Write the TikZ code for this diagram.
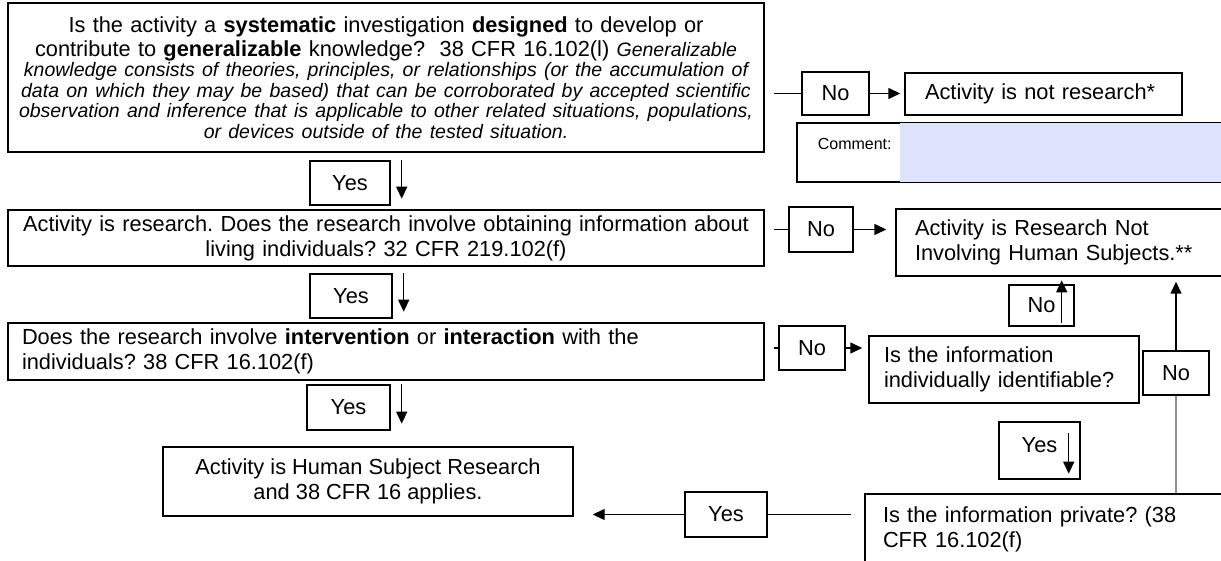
\documentclass[tikz,border=0pt]{standalone}
\usepackage{fontspec}
\setmainfont{Liberation Sans}
\setlength{\parindent}{0pt}
\frenchspacing
\usetikzlibrary{arrows.meta,calc}
\definecolor{cmtblue}{RGB}{220,227,251}

\begin{document}
\begin{tikzpicture}[x=1pt,y=-1pt,
        box/.style={draw,line width=1.4pt,inner sep=0pt,font=\fontsize{21.8}{25}\selectfont},
        lnk/.style={line width=1.4pt},
        arr/.style={line width=1.4pt,-{Triangle[length=12pt,width=11pt]}}]
        \useasboundingbox (0,0) rectangle (1221,561);
        \clip (0,0) rectangle (1221,561);
        \node[box,minimum width=756pt,minimum height=149pt,text width=745pt,font=\fontsize{21.8}{24}\selectfont] (q1) at (386,77.5) {\centering
            Is the activity a \textbf{systematic} investigation \textbf{designed} to develop or\\
            contribute to \textbf{generalizable} knowledge?\ \ 38 CFR 16.102(l) {\itshape\fontsize{19.5}{20.4}\selectfont Generalizable}\\
            {\itshape\fontsize{19.5}{20.4}\selectfont knowledge consists of theories, principles, or relationships (or the accumulation of\\
            data on which they may be based) that can be corroborated by accepted scientific\\
            observation and inference that is applicable to other related situations, populations,\\
            or devices outside of the tested situation.\par}};
        \node[box,minimum width=80pt,minimum height=44pt] (yes1) at (350,183) {Yes};
        \node[box,minimum width=756pt,minimum height=56pt,text width=745pt,align=center] (q2) at (386,238) {Activity is research. Does the research involve obtaining information about\\ living individuals? 32 CFR 219.102(f)};
        \node[box,minimum width=82pt,minimum height=44pt] (yes2) at (351,296) {Yes};
        \node[box,minimum width=756pt,minimum height=57pt,text width=728pt,align=left] (q3) at (386,351.5) {Does the research involve \textbf{intervention} or \textbf{interaction} with the\\ individuals? 38 CFR 16.102(f)};
        \node[box,minimum width=83pt,minimum height=45pt] (yes3) at (348.5,407.5) {Yes};
        \node[box,minimum width=410pt,minimum height=69pt,align=center] (hsr) at (368,481.5) {Activity is Human Subject Research\\ and 38 CFR 16 applies.};
        \node[box,minimum width=67pt,minimum height=43pt] (no1) at (835.5,93.5) {No};
        \node[box,minimum width=277pt,minimum height=42pt,text width=237pt,align=left] (nores) at (1043.5,94) {Activity is not research*};
        \node[box,minimum width=443pt,minimum height=59pt] (comment) at (1018.5,152.5) {};
        \fill[cmtblue] ($(comment.north west)+(104,0.7)$) rectangle ($(comment.south east)+(0,-0.7)$);
        \node[font=\fontsize{16}{18}\selectfont,anchor=west] (cmtlbl) at ($(comment.west)+(18,-9)$) {Comment:};
        \node[box,minimum width=64pt,minimum height=45pt] (no2) at (821,229.5) {No};
        \node[box,minimum width=344pt,minimum height=67pt,text width=306pt,align=left] (rni) at (1068,242.5) {Activity is Research Not\\ Involving Human Subjects.**};
        \node[box,minimum width=66pt,minimum height=44pt] (no3) at (812,348) {No};
        \node[box,minimum width=270pt,minimum height=67pt,text width=240pt,align=left] (ident) at (1004,369.5) {Is the information\\ individually identifiable?};
        \node[box,minimum width=65pt,minimum height=41pt] (noup) at (1041.5,305.5) {No};
        \node[box,minimum width=66pt,minimum height=44pt] (noR) at (1176,373) {No};
        \node[box,minimum width=81pt,minimum height=57pt] (yesD) at (1039.5,450.5) {\raisebox{12pt}{Yes}};
        \node[box,minimum width=375pt,minimum height=70pt,text width=339pt,align=left] (private) at (1052.5,529) {Is the information private? (38\\ CFR 16.102(f)};
        \node[box,minimum width=82pt,minimum height=45pt] (yesL) at (726,514.5) {Yes};
        \foreach \n in {yes1,yes2,yes3}
            \draw[arr] ($(\n.north east)+(11,0)$) -- ($(\n.south east)+(11,-7)$);
        \draw[lnk] ($(q1.east |- no1.west)+(9,0)$) -- (no1.west);
        \draw[arr] (no1.east) -- ($(nores.west |- no1.east)+(-4,0)$);
        \draw[lnk] ($(q2.east |- no2.west)+(9,0)$) -- (no2.west);
        \draw[arr] (no2.east) -- ($(rni.west |- no2.east)+(-9,0)$);
        \draw[lnk] ($(q3.east |- no3.west)+(9,0)$) -- (no3.west);
        \draw[arr] (no3.east) -- ($(ident.west |- no3.east)+(-6,0)$);
        \draw[arr] ($(noup.south east)+(-13,-4)$) -- ($(noup.north east)+(-13,-4)$);
        \draw[arr] (noR.north) -- ($(noR.north |- rni.south)+(0,5)$);
        \draw[lnk,draw=black!45] (noR.south) -- (noR.south |- private.north);
        \draw[arr] ($(yesD.north east)+(-12,12)$) -- ($(yesD.south east)+(-12,-6)$);
        \draw[lnk] ($(private.west |- yesL.east)+(-13,0)$) -- (yesL.east);
        \draw[arr] (yesL.west) -- ($(hsr.east |- yesL.west)+(19,0)$);
\end{tikzpicture}
\end{document}
